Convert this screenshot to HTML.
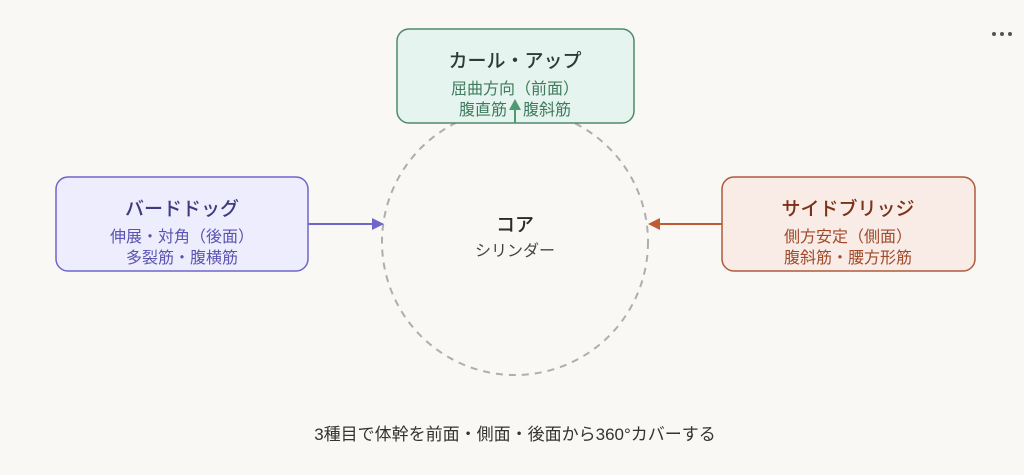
<!DOCTYPE html>
<html><head><meta charset="utf-8"><style>
body{margin:0;background:#f9f8f5;}
text{font-family:"Liberation Sans","Noto Sans CJK JP",sans-serif;}
</style></head><body>
<svg width="1024" height="470" viewBox="0 0 1024 470" xmlns="http://www.w3.org/2000/svg">
<rect width="1024" height="470" fill="#f9f8f5"/>
<circle cx="994" cy="34" r="2" fill="#555"/><circle cx="1002" cy="34" r="2" fill="#555"/><circle cx="1010" cy="34" r="2" fill="#555"/>
<circle cx="515" cy="242" r="133" fill="none" stroke="#b0aeaa" stroke-width="2" stroke-dasharray="7,6"/>
<text x="515" y="231" font-size="19" font-weight="500" fill="#2a2a2a" text-anchor="middle">コア</text>
<text x="515" y="256" font-size="16" fill="#444" text-anchor="middle">シリンダー</text>
<!-- top -->
<rect x="397" y="29" width="237" height="94" rx="12" fill="#e5f4ee" stroke="#4f8a6e" stroke-width="1.5"/>
<text x="515" y="67" font-size="19" font-weight="500" fill="#2e3b35" text-anchor="middle">カール・アップ</text>
<text x="515" y="94" font-size="16" fill="#3f7a5e" text-anchor="middle">屈曲方向（前面）</text>
<text x="515" y="115" font-size="16" fill="#3f7a5e" text-anchor="middle">腹直筋　腹斜筋</text>
<line x1="515" y1="123" x2="515" y2="108" stroke="#4f9a72" stroke-width="2"/>
<polygon points="509,110 521,110 515,99" fill="#4f9a72"/>
<!-- left -->
<rect x="56" y="177" width="252" height="94" rx="12" fill="#eeedfd" stroke="#6e66cc" stroke-width="1.5"/>
<text x="182" y="215" font-size="19" font-weight="500" fill="#3e3a80" text-anchor="middle">バードドッグ</text>
<text x="182" y="242" font-size="16" fill="#5a54b0" text-anchor="middle">伸展・対角（後面）</text>
<text x="182" y="263" font-size="16" fill="#5a54b0" text-anchor="middle">多裂筋・腹横筋</text>
<line x1="308" y1="224" x2="374" y2="224" stroke="#6e66cc" stroke-width="2"/>
<polygon points="372,218 372,230 384,224" fill="#6e66cc"/>
<!-- right -->
<rect x="722" y="177" width="253" height="94" rx="12" fill="#f9ebe6" stroke="#b05a3a" stroke-width="1.5"/>
<text x="848" y="215" font-size="19" font-weight="500" fill="#7a3218" text-anchor="middle">サイドブリッジ</text>
<text x="848" y="242" font-size="16" fill="#a04a2a" text-anchor="middle">側方安定（側面）</text>
<text x="848" y="263" font-size="16" fill="#a04a2a" text-anchor="middle">腹斜筋・腰方形筋</text>
<line x1="722" y1="224" x2="658" y2="224" stroke="#c05a34" stroke-width="2"/>
<polygon points="660,218 660,230 648,224" fill="#c05a34"/>
<text x="515" y="440" font-size="17" fill="#333" text-anchor="middle">3種目で体幹を前面・側面・後面から360°カバーする</text>
</svg>
</body></html>
